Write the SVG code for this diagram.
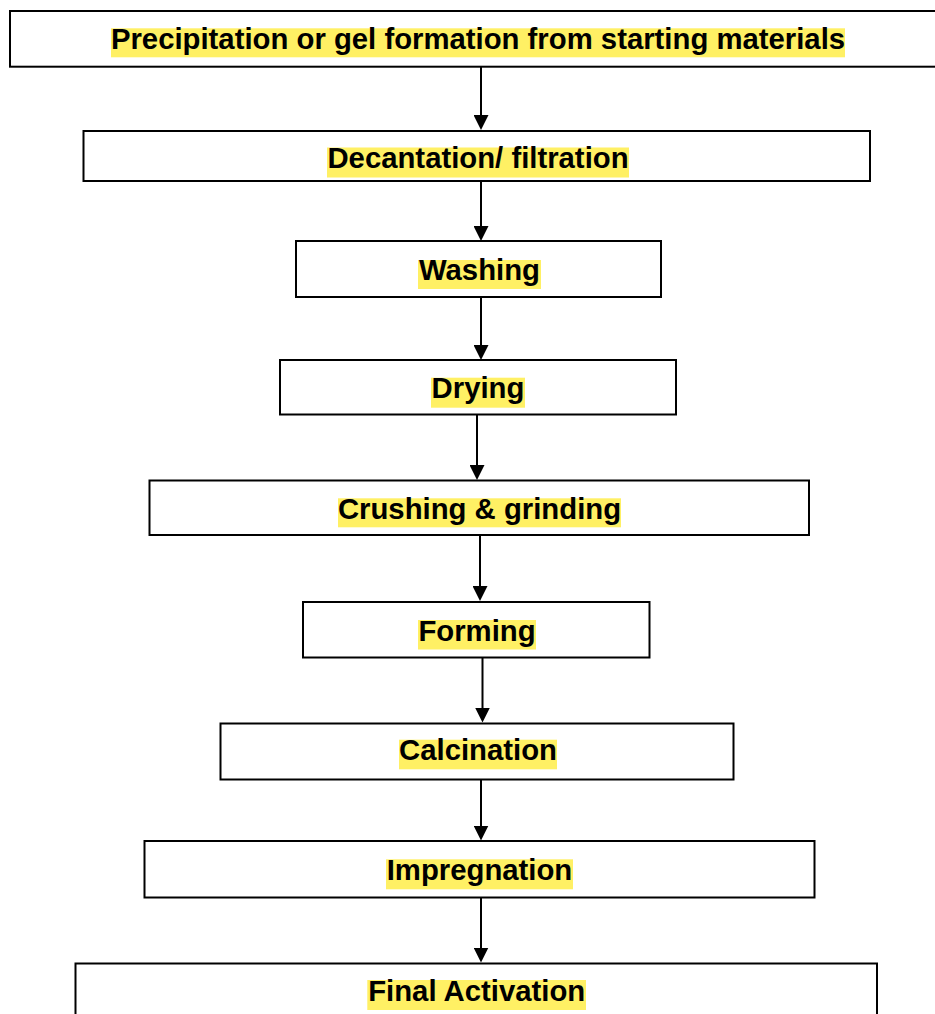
<svg xmlns="http://www.w3.org/2000/svg" width="935" height="1014" viewBox="0 0 935 1014">
  <style>
    .box { fill: #ffffff; stroke: #000000; stroke-width: 2; }
    .hl { fill: #FFF064; stroke: none; }
    .lbl { font-family: "Liberation Sans", Arial, sans-serif; font-weight: bold; font-size: 29.3px; fill: #000000; text-anchor: middle; }
    .conn { stroke: #000000; stroke-width: 2; fill: none; marker-end: url(#arrow); }
  </style>
  <defs>
    <marker id="arrow" viewBox="0 0 10 10" refX="8" refY="5" markerWidth="15" markerHeight="15" markerUnits="userSpaceOnUse" orient="auto">
      <path d="M0,0 L10,5 L0,10 z" fill="#000000"/>
    </marker>
  </defs>
  <rect x="0" y="0" width="935" height="1014" fill="#ffffff"/>

  <g id="connectors">
    <line class="conn" x1="481" y1="67" x2="481" y2="127"/>
    <line class="conn" x1="481" y1="181" x2="481" y2="238"/>
    <line class="conn" x1="481" y1="297" x2="481" y2="357"/>
    <line class="conn" x1="477" y1="414" x2="477" y2="477"/>
    <line class="conn" x1="480" y1="535" x2="480" y2="598"/>
    <line class="conn" x1="482.5" y1="657.5" x2="482.5" y2="719.5"/>
    <line class="conn" x1="481" y1="779.5" x2="481" y2="837.5"/>
    <line class="conn" x1="481" y1="897.5" x2="481" y2="959.5"/>
  </g>

  <g id="node-precipitation">
    <rect class="box" x="10" y="11" width="935" height="55.7"/>
    <rect class="hl" x="111" y="28.3" width="734" height="29"/>
    <text class="lbl" x="478" y="49">Precipitation or gel formation from starting materials</text>
  </g>

  <g id="node-decantation">
    <rect class="box" x="83.5" y="131" width="786.5" height="50"/>
    <rect class="hl" x="327" y="147.5" width="302" height="30"/>
    <text class="lbl" x="478" y="168.2">Decantation/ filtration</text>
  </g>

  <g id="node-washing">
    <rect class="box" x="296" y="241" width="365" height="56"/>
    <rect class="hl" x="418" y="260" width="123" height="29"/>
    <text class="lbl" x="479.5" y="279.5">Washing</text>
  </g>

  <g id="node-drying">
    <rect class="box" x="280" y="360" width="396" height="54.5"/>
    <rect class="hl" x="431" y="377.7" width="94" height="30"/>
    <text class="lbl" x="478" y="398.4">Drying</text>
  </g>

  <g id="node-crushing">
    <rect class="box" x="149.5" y="480.5" width="659.5" height="54.5"/>
    <rect class="hl" x="338" y="498.3" width="283" height="29"/>
    <text class="lbl" x="479.5" y="519">Crushing &amp; grinding</text>
  </g>

  <g id="node-forming">
    <rect class="box" x="303" y="602" width="346.5" height="55.5"/>
    <rect class="hl" x="418" y="620" width="118" height="29.5"/>
    <text class="lbl" x="477" y="640.7">Forming</text>
  </g>

  <g id="node-calcination">
    <rect class="box" x="220.5" y="723.5" width="513" height="56"/>
    <rect class="hl" x="399" y="739.7" width="158" height="29.6"/>
    <text class="lbl" x="478" y="760.4">Calcination</text>
  </g>

  <g id="node-impregnation">
    <rect class="box" x="144.5" y="841" width="670" height="56.5"/>
    <rect class="hl" x="386" y="859.3" width="187" height="30"/>
    <text class="lbl" x="479.5" y="880">Impregnation</text>
  </g>

  <g id="node-final-activation">
    <rect class="box" x="75.5" y="963.5" width="801.5" height="60"/>
    <rect class="hl" x="367.3" y="980" width="218.7" height="30"/>
    <text class="lbl" x="476.7" y="1000.7">Final Activation</text>
  </g>
</svg>
